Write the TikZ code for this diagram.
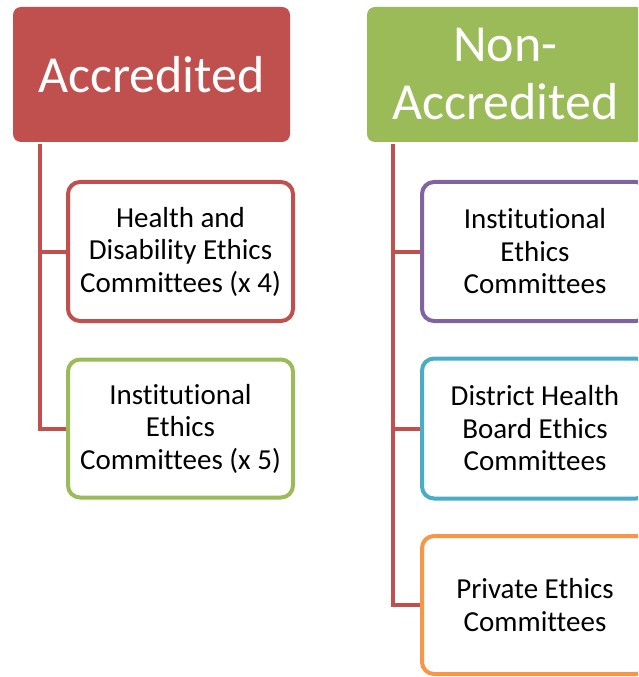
\documentclass[tikz,border=0pt]{standalone}
\usepackage{fontspec}
\setmainfont{Carlito}[Ligatures=NoCommon]
\definecolor{cred}{HTML}{C0504D}
\definecolor{cgreen}{HTML}{9BBB59}
\definecolor{cpurple}{HTML}{8064A2}
\definecolor{cblue}{HTML}{4BACC6}
\definecolor{corange}{HTML}{F79646}
\tikzset{
  header/.style={rectangle, rounded corners=6pt, inner sep=0pt, minimum width=207.75pt, minimum height=101.25pt,
    text=white, align=center, font=\fontsize{39pt}{43.5pt}\selectfont},
  child/.style={rectangle, rounded corners=9pt, draw=#1, line width=3pt, fill=white, inner sep=0pt,
    minimum width=168.75pt, align=center, text=black, font=\fontsize{21.75pt}{24.4pt}\selectfont},
  trunk/.style={draw=cred, line width=3pt}
}
\begin{document}
\begin{tikzpicture}[x=0.75pt,y=-0.75pt]
\useasboundingbox (0,0) rectangle (638,677);
\clip (0,0) rectangle (638,677);
% headers
\node[header, fill=cred] (A) at (151.5,74.5) {Accredited};
\node[header, fill=cgreen] (N) at (505.5,74.5) {Non-\\Accredited};
% left children
\node[child=cred, minimum height=104.25pt] (c1) at (180.5,251.5) {Health and\\Disability Ethics\\Committees (x 4)};
\node[child=cgreen, minimum height=103.5pt] (c2) at (180.5,428.5) {Institutional\\Ethics\\Committees (x 5)};
% right children
\node[child=cpurple, minimum width=169.5pt, minimum height=104.25pt] (r1) at (535,251.5) {Institutional\\Ethics\\Committees};
\node[child=cblue, minimum width=169.5pt, minimum height=105pt] (r2) at (535,428.5) {District Health\\Board Ethics\\Committees};
\node[child=corange, minimum width=169.5pt, minimum height=103.5pt] (r3) at (535,605) {Private Ethics\\Committees};
% trunks
\coordinate (tA) at (40,144);
\coordinate (tN) at (393,144);
\draw[trunk] (tA) |- (c1.west);
\draw[trunk] (tA) |- (c2.west);
\draw[trunk] (tN) |- (r1.west);
\draw[trunk] (tN) |- (r2.west);
\draw[trunk] (tN) |- (r3.west);
\end{tikzpicture}
\end{document}
